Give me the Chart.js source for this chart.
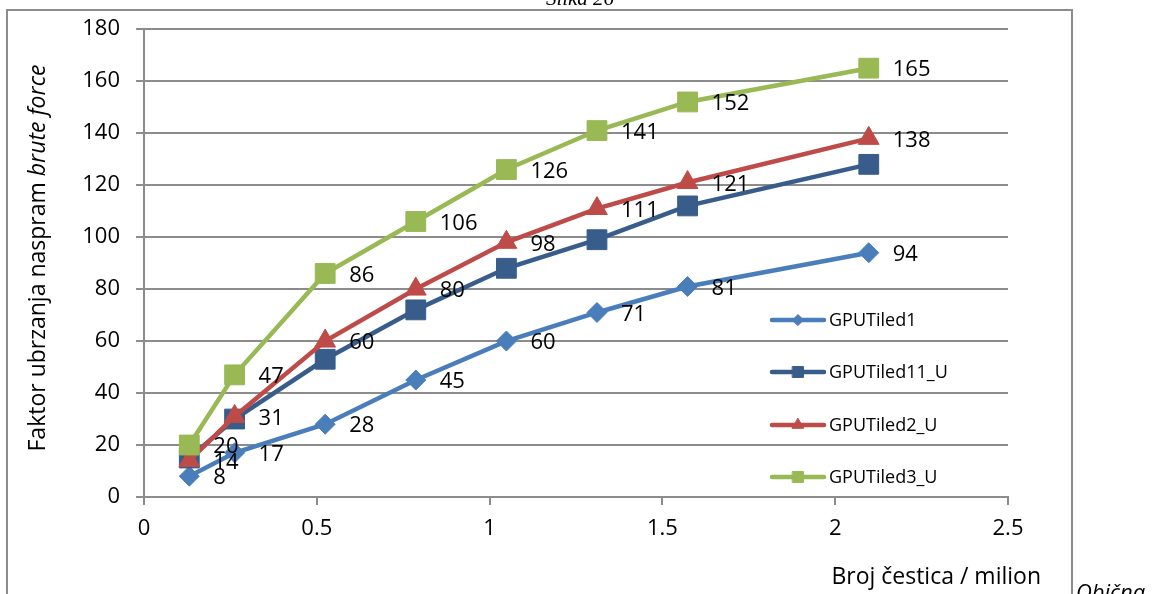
<!DOCTYPE html>
<html>
<head>
<meta charset="utf-8">
<script src="https://cdn.jsdelivr.net/npm/chart.js@4.4.1/dist/chart.umd.min.js"></script>
<style>
  html, body { margin: 0; padding: 0; background: #fff; }
  #wrap { position: relative; width: 1154px; height: 594px; }
</style>
</head>
<body>
<div id="wrap"><canvas id="speedup" width="1154" height="594"></canvas></div>
<script>
// broj cestica (u milionima)
var particles = [0.131072, 0.262144, 0.524288, 0.786432, 1.048576, 1.31072, 1.572864, 2.097152];

var seriesNames = ['GPUTiled1', 'GPUTiled11_U', 'GPUTiled2_U', 'GPUTiled3_U'];
var gpuTiled1   = [8, 17, 28, 45, 60, 71, 81, 94];
var gpuTiled11U = [15, 30, 53, 72, 88, 99, 112, 128];
var gpuTiled2U  = [14, 31, 60, 80, 98, 111, 121, 138];
var gpuTiled3U  = [20, 47, 86, 106, 126, 141, 152, 165];

var xTicks = [0, 0.5, 1, 1.5, 2, 2.5];
var yTicks = [0, 20, 40, 60, 80, 100, 120, 140, 160, 180];

var yTitle = 'Faktor ubrzanja naspram ';
var yTitleItalic = 'brute force';
var xTitle = 'Broj čestica / milion';

var FONT = '"Open Sans", Lato, sans-serif';

function points(values) {
  return values.map(function(v, i) { return {x: particles[i], y: v}; });
}

function series(i, values, color, style, radius, showLabels) {
  return {
    label: seriesNames[i],
    data: points(values),
    borderColor: color,
    backgroundColor: color,
    pointBackgroundColor: color,
    pointBorderColor: color,
    pointStyle: style,
    pointRadius: radius,
    pointHoverRadius: radius,
    pointBorderWidth: 1,
    borderWidth: 4.5,
    tension: 0,
    order: 3 - i,
    showLabels: showLabels
  };
}

// okvir, naslovi osa, oznake vrednosti i legenda
var decor = {
  id: 'decor',
  afterDraw: function(chart) {
    var ctx = chart.ctx;
    ctx.save();

    // okvir oko grafika
    ctx.strokeStyle = '#8c8c8c';
    ctx.lineWidth = 2;
    ctx.strokeRect(7, 10, 1065, 600);

    ctx.fillStyle = '#000';
    ctx.font = 'italic 21px "Liberation Serif", serif';
    ctx.textAlign = 'center';
    ctx.textBaseline = 'alphabetic';
    ctx.fillText('Slika 26', 580, 5);

    ctx.font = 'italic 22px ' + FONT;
    ctx.textAlign = 'left';
    ctx.fillText('Obična', 1076, 600);

    // naslov y ose
    ctx.save();
    ctx.translate(38, 258);
    ctx.rotate(-Math.PI / 2);
    ctx.font = '23px ' + FONT;
    var w1 = ctx.measureText(yTitle).width;
    ctx.font = 'italic 23px ' + FONT;
    var w2 = ctx.measureText(yTitleItalic).width;
    ctx.textBaseline = 'middle';
    ctx.textAlign = 'left';
    ctx.font = '23px ' + FONT;
    ctx.fillText(yTitle, -(w1 + w2) / 2, 0);
    ctx.font = 'italic 23px ' + FONT;
    ctx.fillText(yTitleItalic, -(w1 + w2) / 2 + w1, 0);
    ctx.restore();

    // naslov x ose
    ctx.font = '23px ' + FONT;
    ctx.textAlign = 'right';
    ctx.textBaseline = 'middle';
    ctx.fillText(xTitle, 1041, 577);

    // vrednosti pored tacaka
    ctx.font = '22px ' + FONT;
    ctx.textAlign = 'left';
    chart.data.datasets.forEach(function(ds, i) {
      if (!ds.showLabels) return;
      chart.getDatasetMeta(i).data.forEach(function(pt, j) {
        ctx.fillText(String(ds.data[j].y), pt.x + 24, pt.y + 2);
      });
    });

    // legenda
    var rowY = [320, 372, 425, 477];
    ctx.font = '18px ' + FONT;
    chart.data.datasets.forEach(function(ds, i) {
      var y = rowY[i];
      ctx.strokeStyle = ds.borderColor;
      ctx.lineWidth = 4.5;
      ctx.lineCap = 'round';
      ctx.beginPath();
      ctx.moveTo(772, y);
      ctx.lineTo(824, y);
      ctx.stroke();
      ctx.fillStyle = ds.backgroundColor;
      ctx.strokeStyle = ds.borderColor;
      ctx.lineWidth = 1;
      Chart.helpers.drawPoint(ctx, {pointStyle: ds.pointStyle, radius: ds.pointRadius * 0.55, rotation: 0, borderWidth: 1}, 798, y);
      ctx.fillStyle = '#000';
      ctx.textAlign = 'left';
      ctx.fillText(ds.label, 829, y + 1);
    });

    ctx.restore();
  }
};

new Chart(document.getElementById('speedup'), {
  type: 'line',
  data: {
    datasets: [
      series(0, gpuTiled1, '#4a7ebb', 'rectRot', 10, true),
      series(1, gpuTiled11U, '#385d8a', 'rect', 14, false),
      series(2, gpuTiled2U, '#be4b48', 'triangle', 12, true),
      series(3, gpuTiled3U, '#98b954', 'rect', 14, true)
    ]
  },
  options: {
    responsive: false,
    animation: false,
    events: [],
    layout: { padding: { top: 27, right: 146, left: 0, bottom: 0 } },
    plugins: { legend: { display: false }, tooltip: { enabled: false } },
    scales: {
      x: {
        type: 'linear',
        min: 0,
        max: 2.5,
        afterFit: function(scale) { scale.height = 97; },
        afterBuildTicks: function(scale) {
          scale.ticks = xTicks.map(function(v) { return {value: v}; });
        },
        ticks: {
          color: '#000',
          font: { family: FONT, size: 22 },
          padding: 11,
          maxRotation: 0,
          callback: function(v) { return String(v); }
        },
        grid: { drawOnChartArea: false, drawTicks: true, tickLength: 8, color: '#8c8c8c', lineWidth: 2 },
        border: { color: '#8c8c8c', width: 2 }
      },
      y: {
        min: 0,
        max: 180,
        afterFit: function(scale) { scale.width = 144; },
        afterBuildTicks: function(scale) {
          scale.ticks = yTicks.map(function(v) { return {value: v}; });
        },
        ticks: {
          color: '#000',
          font: { family: FONT, size: 22 },
          padding: 16
        },
        grid: { color: '#8c8c8c', lineWidth: 2, tickLength: 8 },
        border: { color: '#8c8c8c', width: 2 }
      }
    }
  },
  plugins: [decor]
});
</script>
</body>
</html>
